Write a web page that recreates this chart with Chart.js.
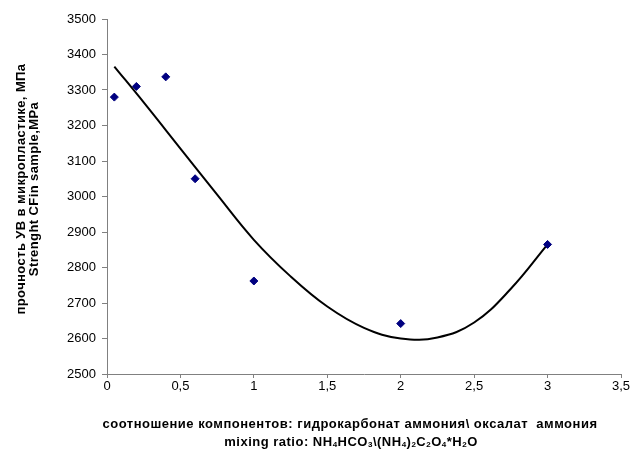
<!DOCTYPE html>
<html>
<head>
<meta charset="utf-8">
<script src="https://cdn.jsdelivr.net/npm/chart.js@4/dist/chart.umd.min.js"></script>
<style>
  html, body { margin: 0; padding: 0; background: #fff; }
  #wrap { width: 632px; height: 450px; position: relative; }
</style>
</head>
<body>
<div id="wrap"><canvas id="c" width="632" height="450"></canvas></div>
<script>
// Measured points: mixing ratio vs strength (MPa)
const xRatio   = [0.05, 0.2, 0.4, 0.6, 1, 2, 3];
const strength = [3280, 3310, 3337, 3050, 2762, 2642, 2865];

// Trend line
const trendX = [0.05, 0.25, 0.5, 0.75, 1.0, 1.25, 1.5, 1.75, 2.0, 2.25, 2.5, 2.75, 3.0];
const trendY = [3366, 3265, 3135, 3005, 2878, 2775, 2690, 2630, 2600, 2603, 2645, 2740, 2865];

// Axis settings
const xMin = 0, xMax = 3.5, xStep = 0.5;
const yMin = 2500, yMax = 3500, yStep = 100;

const yTitleLines = ["прочность УВ в микропластике, МПа", "Strenght CFin sample,MPa"];
const xTitleLine1 = "соотношение компонентов: гидрокарбонат аммония\\ оксалат  аммония";
// second line with subscripts: [text, isSubscript]
const xTitleLine2 = [["mixing ratio: NH",0],["4",1],["HCO",0],["3",1],["\\(NH",0],["4",1],[")",0],["2",1],["C",0],["2",1],["O",0],["4",1],["*H",0],["2",1],["O",0]];

const FONT = '"Liberation Sans", Arial, sans-serif';

const titlePlugin = {
  id: 'titles',
  afterDraw(chart) {
    const ctx = chart.ctx;
    ctx.save();
    ctx.fillStyle = '#000';
    // Y title (rotated)
    ctx.font = 'bold 13px ' + FONT;
    ctx.letterSpacing = '0.4px';
    ctx.textAlign = 'center';
    ctx.textBaseline = 'middle';
    const yc = 189;
    [21, 34].forEach((x, i) => {
      ctx.save();
      ctx.translate(x, yc);
      ctx.rotate(-Math.PI / 2);
      ctx.fillText(yTitleLines[i], 0, 0);
      ctx.restore();
    });
    // X title line 1
    ctx.font = 'bold 13px ' + FONT;
    ctx.textAlign = 'left';
    ctx.textBaseline = 'alphabetic';
    ctx.letterSpacing = '0.5px';
    const w1 = ctx.measureText(xTitleLine1).width;
    ctx.fillText(xTitleLine1, 350 - w1 / 2, 428);
    // X title line 2 with subscripts
    const mainFont = 'bold 13px ' + FONT;
    const subFont = 'bold 8px ' + FONT;
    let total = 0;
    xTitleLine2.forEach(([t, s]) => { ctx.font = s ? subFont : mainFont; total += ctx.measureText(t).width; });
    let x = 351 - total / 2;
    xTitleLine2.forEach(([t, s]) => {
      ctx.font = s ? subFont : mainFont;
      ctx.fillText(t, x, s ? 447 : 446);
      x += ctx.measureText(t).width;
    });
    ctx.restore();
  }
};

new Chart(document.getElementById('c'), {
  type: 'scatter',
  data: {
    datasets: [
      {
        label: 'data',
        data: xRatio.map((x, i) => ({ x: x, y: strength[i] })),
        pointStyle: 'rectRot',
        pointRadius: 4,
        pointBackgroundColor: '#000080',
        pointBorderColor: '#000080',
        pointBorderWidth: 1,
        showLine: false,
        order: 0
      },
      {
        label: 'trend',
        data: trendX.map((x, i) => ({ x: x, y: trendY[i] })),
        showLine: true,
        borderColor: '#000',
        borderWidth: 2,
        pointRadius: 0,
        tension: 0.4,
        fill: false,
        order: 1
      }
    ]
  },
  options: {
    responsive: false,
    animation: false,
    events: [],
    layout: { padding: { top: 19, right: 11, left: 0, bottom: 0 } },
    plugins: { legend: { display: false }, tooltip: { enabled: false } },
    scales: {
      x: {
        type: 'linear',
        min: xMin, max: xMax,
        afterFit(s) { s.height = 76; },
        ticks: {
          stepSize: xStep,
          color: '#000',
          font: { family: FONT, size: 13 },
          padding: 1,
          maxRotation: 0,
          callback: v => String(v).replace('.', ',')
        },
        grid: { drawOnChartArea: false, drawTicks: true, tickLength: 4, color: '#808080' },
        border: { display: true, color: '#808080', width: 1 }
      },
      y: {
        type: 'linear',
        min: yMin, max: yMax,
        afterFit(s) { s.width = 107; },
        ticks: {
          stepSize: yStep,
          color: '#000',
          font: { family: FONT, size: 13 },
          padding: 6,
          callback: v => String(v)
        },
        grid: { drawOnChartArea: false, drawTicks: true, tickLength: 5, color: '#808080' },
        border: { display: true, color: '#808080', width: 1 }
      }
    }
  },
  plugins: [titlePlugin]
});
</script>
</body>
</html>
